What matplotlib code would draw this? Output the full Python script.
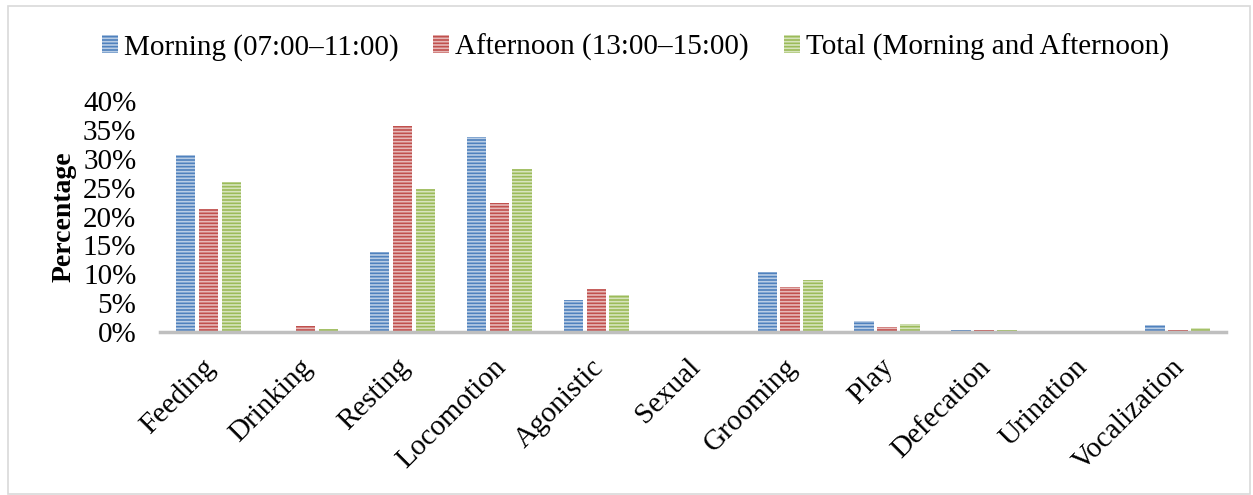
import matplotlib.pyplot as plt
import matplotlib.transforms as mtransforms
import numpy as np
from matplotlib.patches import Patch, Rectangle
from matplotlib.ticker import FuncFormatter

# behaviour categories
behaviours = ['Feeding', 'Drinking', 'Resting', 'Locomotion', 'Agonistic', 'Sexual',
              'Grooming', 'Play', 'Defecation', 'Urination', 'Vocalization']

# percentages
morning = [30.6, 0.2, 13.8, 33.8, 5.6, 0.0, 10.4, 1.9, 0.35, 0.0, 1.2]
afternoon = [21.3, 1.0, 35.6, 22.3, 7.5, 0.2, 7.8, 0.9, 0.45, 0.25, 0.35]
total = [26.0, 0.5, 24.7, 28.2, 6.5, 0.1, 9.0, 1.4, 0.35, 0.1, 0.75]

series_labels = ['Morning (07:00\u201311:00)', 'Afternoon (13:00\u201315:00)',
                 'Total (Morning and Afternoon)']

plt.rcParams['font.family'] = ['Liberation Serif', 'DejaVu Serif']
plt.rcParams['hatch.linewidth'] = 1.2

fig = plt.figure(figsize=(12.53, 4.95), dpi=100)
ax = fig.add_axes([0.1277, 0.329, 0.851, 0.467])

faces = ['#4F81BD', '#C0504D', '#9BBB59']
stripes = ['#B9CDE5', '#E6B9B8', '#D7E4BD']
hatch = '-----'

x = np.arange(len(behaviours))
width = 0.2
step = 0.236
for i, vals in enumerate([morning, afternoon, total]):
    ax.bar(x + (i - 1) * step, np.array(vals) / 100, width=width,
           color=faces[i], edgecolor=stripes[i], linewidth=0, hatch=hatch)

ax.set_xlim(-0.5, len(behaviours) - 0.5)
ax.set_ylim(0, 0.40)
ax.set_yticks(np.arange(0, 0.401, 0.05))
ax.yaxis.set_major_formatter(FuncFormatter(lambda v, p: '{:.0f}%'.format(v * 100)))
ax.tick_params(axis='y', length=0, pad=17, labelsize=21)
ax.tick_params(axis='x', length=0, pad=11, labelsize=21)
ax.set_xticks(x)
ax.set_xticklabels(behaviours, rotation=45, ha='right', va='center',
                   rotation_mode='anchor')

# nudge the category labels down/right a bit
offset = mtransforms.ScaledTranslation(0.03, -0.16, fig.dpi_scale_trans)
for lbl in ax.get_xticklabels():
    lbl.set_transform(lbl.get_transform() + offset)

for s in ['top', 'right', 'left']:
    ax.spines[s].set_visible(False)
ax.spines['bottom'].set_color('#BFBFBF')
ax.spines['bottom'].set_linewidth(2.5)

ax.set_ylabel('Percentage', fontsize=20, fontweight='bold')
ax.yaxis.set_label_coords(-0.078, 0.5)

handles = [Patch(facecolor=faces[i], edgecolor=stripes[i], linewidth=0, hatch=hatch)
           for i in range(3)]
fig.legend(handles, series_labels, loc='center', bbox_to_anchor=(0.507, 0.905),
           ncol=3, frameon=False, fontsize=21, handlelength=0.55, handleheight=0.55,
           handletextpad=0.2, columnspacing=1.2)

# thin frame around the chart
fig.patches.append(Rectangle((0.006, 0.002), 0.992, 0.986, transform=fig.transFigure,
                             fill=False, edgecolor='#D9D9D9', linewidth=1.2))

fig.savefig('out.png', dpi=100)
